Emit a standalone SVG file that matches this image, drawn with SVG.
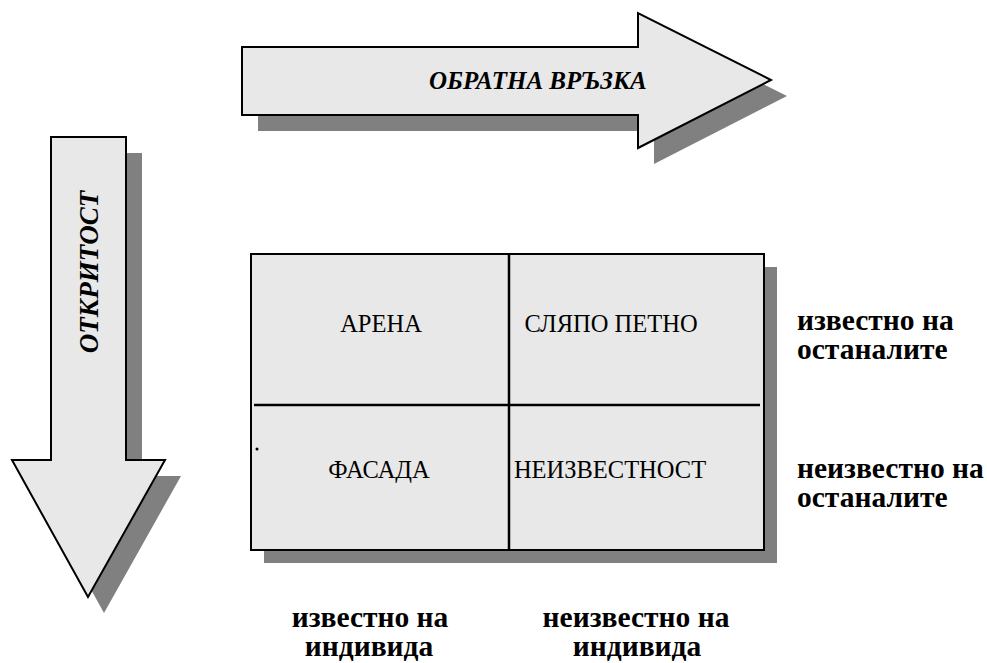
<svg xmlns="http://www.w3.org/2000/svg" width="987" height="663" viewBox="0 0 987 663">
  <rect width="987" height="663" fill="#fff"/>

  <!-- feedback arrow (horizontal) -->
  <g id="arrow-feedback">
    <polygon fill="#808080" points="258,63 654,63 654,29 787,96 654,164 654,131 258,131"/>
    <polygon fill="#e8e8e8" stroke="#000" stroke-width="2" points="242,47 638,47 638,13 771,80 638,148 638,115 242,115"/>
    <text font-family="Liberation Serif" font-size="25" font-weight="bold" font-style="italic" x="429" y="89">ОБРАТНА ВРЪЗКА</text>
  </g>

  <!-- openness arrow (vertical) -->
  <g id="arrow-openness">
    <polygon fill="#808080" points="67,153 142,153 142,476 181,476 104,613 28,476 67,476"/>
    <polygon fill="#e8e8e8" stroke="#000" stroke-width="2" points="51,137 126,137 126,460 165,460 88,597 12,460 51,460"/>
    <text font-family="Liberation Serif" font-size="27" font-weight="bold" font-style="italic" text-anchor="middle" transform="translate(98,272) rotate(-90)">ОТКРИТОСТ</text>
  </g>

  <!-- Johari window frame -->
  <g id="window">
    <rect fill="#808080" x="264" y="267" width="513" height="296"/>
    <rect fill="#e8e8e8" stroke="#000" stroke-width="2" x="251" y="254" width="513" height="296"/>
    <g stroke="#000" stroke-width="2.5">
      <line x1="509" y1="254" x2="509" y2="550"/>
      <line x1="254" y1="405" x2="760" y2="405"/>
    </g>
    <circle cx="257" cy="449" r="1.5" fill="#000"/>
  </g>

  <g id="cell-arena"><text font-family="Liberation Serif" font-size="24.5" text-anchor="middle" x="381" y="332">АРЕНА</text></g>
  <g id="cell-blind"><text font-family="Liberation Serif" font-size="24.5" text-anchor="middle" x="611" y="332">СЛЯПО ПЕТНО</text></g>
  <g id="cell-facade"><text font-family="Liberation Serif" font-size="24.5" text-anchor="middle" x="379" y="478">ФАСАДА</text></g>
  <g id="cell-unknown"><text font-family="Liberation Serif" font-size="24.5" text-anchor="middle" x="610" y="478">НЕИЗВЕСТНОСТ</text></g>

  <!-- axis labels -->
  <g id="label-known-others">
    <text font-family="Liberation Serif" font-size="29.5" font-weight="bold" x="797" y="330">известно на</text>
    <text font-family="Liberation Serif" font-size="29.5" font-weight="bold" x="797" y="359">останалите</text>
  </g>
  <g id="label-unknown-others">
    <text font-family="Liberation Serif" font-size="29.5" font-weight="bold" x="797" y="478">неизвестно на</text>
    <text font-family="Liberation Serif" font-size="29.5" font-weight="bold" x="797" y="507">останалите</text>
  </g>
  <g id="label-known-self">
    <text font-family="Liberation Serif" font-size="29.5" font-weight="bold" text-anchor="middle" x="370" y="627">известно на</text>
    <text font-family="Liberation Serif" font-size="29.5" font-weight="bold" text-anchor="middle" x="369" y="656">индивида</text>
  </g>
  <g id="label-unknown-self">
    <text font-family="Liberation Serif" font-size="29.5" font-weight="bold" text-anchor="middle" x="636" y="627">неизвестно на</text>
    <text font-family="Liberation Serif" font-size="29.5" font-weight="bold" text-anchor="middle" x="637" y="656">индивида</text>
  </g>

  <g id="connectors"></g>
</svg>
